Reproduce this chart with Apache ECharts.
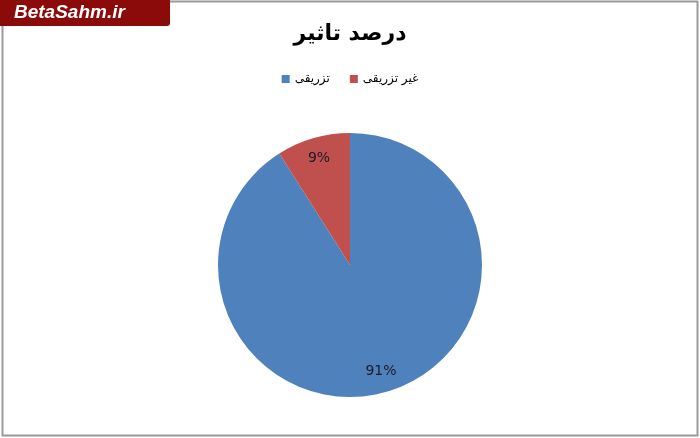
<!DOCTYPE html>
<html><head><meta charset="utf-8">
<script src="https://cdn.jsdelivr.net/npm/echarts@6/dist/echarts.min.js"></script>
<style>html,body{margin:0;padding:0;background:#fff}#c{width:700px;height:438px}</style>
</head><body><div id="c"></div>
<script>
const titleText = 'درصد تاثیر';
const categories = ['تزریقی', 'غیر تزریقی'];
const values = [91, 9];
const colors = ['#4F81BD', '#C0504D'];
const legendOrder = ['تزریقی', 'غیر تزریقی'];

const chart = echarts.init(document.getElementById('c'), null, {renderer: 'canvas'});
const data = categories.map((c, i) => ({name: c, value: values[i], itemStyle: {color: colors[i]}}));
chart.setOption({
  backgroundColor: '#fff',
  animation: false,
  title: {text: titleText, left: 'center', top: 18,
    textStyle: {fontFamily: 'DejaVu Sans, Noto Sans', fontSize: 22, fontWeight: 'bold', color: '#000'}},
  legend: {data: legendOrder, top: 68, left: 'center', align: 'left', itemWidth: 8, itemHeight: 8, itemGap: 20,
    icon: 'rect', textStyle: {fontFamily: 'DejaVu Sans, Noto Sans', fontSize: 12, color: '#000'}},
  graphic: [
    {type: 'rect', shape: {x: 2.5, y: 1.5, width: 695, height: 434}, style: {fill: 'none', stroke: '#9a9a9a', lineWidth: 2}, z: 10},
    {type: 'rect', shape: {x: 0, y: 0, width: 170, height: 26, r: [0, 0, 3, 0]}, style: {fill: '#8B0A0A'}, z: 11},
    {type: 'text', left: 14, top: 3, z: 12, style: {text: 'BetaSahm.ir', fill: '#fff', font: 'italic bold 19px "Liberation Sans", Arial'}}
  ],
  series: [
    {type: 'pie', center: [350, 265], radius: [0, 132], startAngle: 90, clockwise: true,
      data: data, label: {show: false}, labelLine: {show: false}, silent: true},
    {type: 'pie', center: [350, 265], radius: [84, 132], startAngle: 90, clockwise: true, silent: true, z: 5,
      data: data.map(d => ({name: d.name, value: d.value, itemStyle: {color: 'rgba(0,0,0,0)'}})),
      label: {show: true, position: 'inside', formatter: p => p.value + '%', color: '#1a1a2a',
        fontFamily: 'DejaVu Sans, Noto Sans', fontSize: 14},
      labelLine: {show: false}}
  ]
});
</script></body></html>
